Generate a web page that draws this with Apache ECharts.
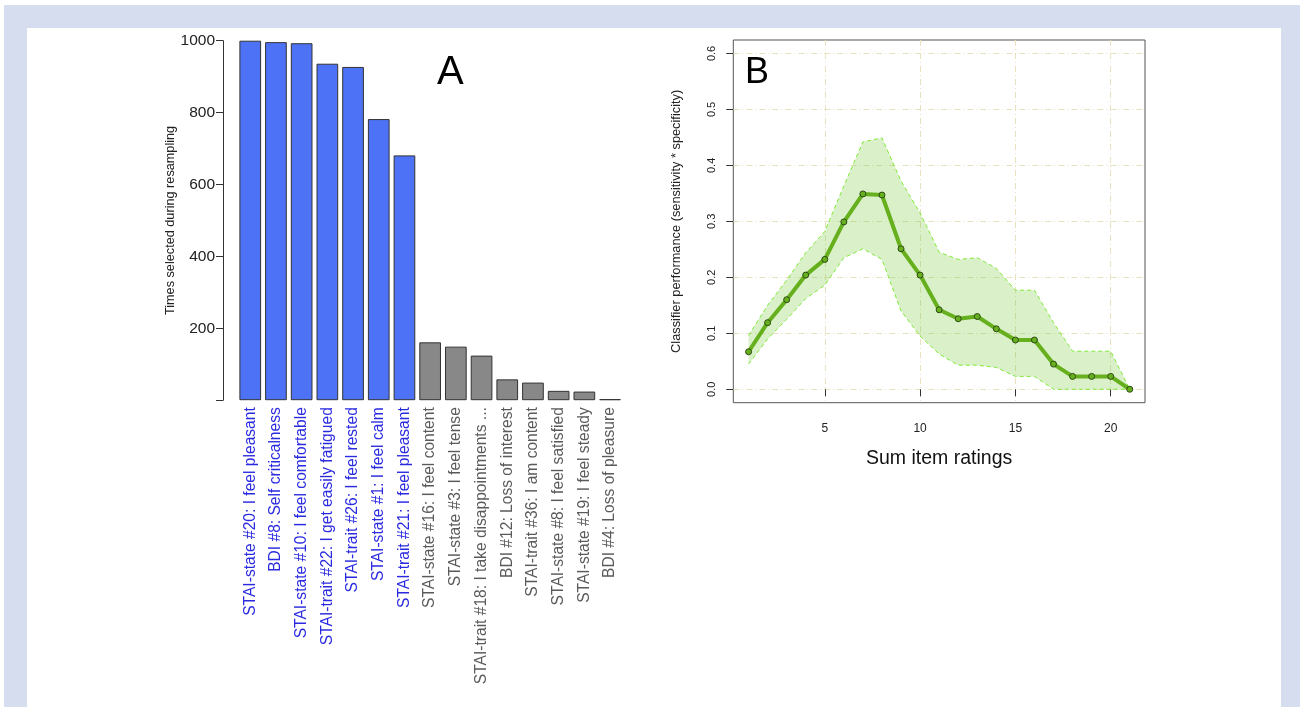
<!DOCTYPE html>
<html>
<head>
<meta charset="utf-8">
<script src="https://cdn.jsdelivr.net/npm/echarts@6/dist/echarts.min.js"></script>
<style>
  html, body { margin:0; padding:0; background:#fff; }
  #frame { position:absolute; left:4px; top:5px; width:1296px; height:702px; background:#d5ddee; }
  #inner { position:absolute; left:27px; top:28px; width:1254px; height:679px; background:#fff; }
  #chart { position:absolute; left:0; top:0; width:1300px; height:707px; }
</style>
</head>
<body>
<div id="frame"></div>
<div id="inner"></div>
<div id="chart"></div>
<script>
// ---- Panel A data ----
const itemLabels = [
  "STAI-state #20: I feel pleasant",
  "BDI #8: Self criticalness",
  "STAI-state #10: I feel comfortable",
  "STAI-trait #22: I get easily fatigued",
  "STAI-trait #26: I feel rested",
  "STAI-state #1: I feel calm",
  "STAI-trait #21: I feel pleasant",
  "STAI-state #16: I feel content",
  "STAI-state #3: I feel tense",
  "STAI-trait #18: I take disappointments ...",
  "BDI #12: Loss of interest",
  "STAI-trait #36: I am content",
  "STAI-state #8: I feel satisfied",
  "STAI-state #19: I feel steady",
  "BDI #4: Loss of pleasure"
];
const timesSelected = [1000, 996, 993, 936, 927, 782, 681, 161, 149, 124, 58, 49, 26, 24, 3];
const selectedItems = [true, true, true, true, true, true, true, false, false, false, false, false, false, false, false];
const yTicksA = [0, 200, 400, 600, 800, 1000];

// ---- Panel B data ----
const sumRatings = [1, 2, 3, 4, 5, 6, 7, 8, 9, 10, 11, 12, 13, 14, 15, 16, 17, 18, 19, 20, 21];
const perfMean  = [0.067, 0.119, 0.160, 0.204, 0.232, 0.299, 0.349, 0.347, 0.251, 0.204, 0.142, 0.126, 0.130, 0.108, 0.088, 0.088, 0.045, 0.023, 0.023, 0.023, 0.000];
const perfUpper = [0.096, 0.150, 0.195, 0.244, 0.282, 0.363, 0.442, 0.449, 0.372, 0.315, 0.245, 0.232, 0.235, 0.216, 0.177, 0.177, 0.119, 0.068, 0.068, 0.068, 0.000];
const perfLower = [0.045, 0.090, 0.125, 0.162, 0.186, 0.235, 0.251, 0.232, 0.140, 0.095, 0.063, 0.043, 0.043, 0.039, 0.023, 0.023, 0.000, 0.000, 0.000, 0.000, 0.000];
const xTicksB = [5, 10, 15, 20];
const yTicksB = [0.0, 0.1, 0.2, 0.3, 0.4, 0.5, 0.6];

const FONT = "'Liberation Sans', Arial, Helvetica, sans-serif";
const chart = echarts.init(document.getElementById('chart'), null, { renderer: 'canvas' });

const option = {
  backgroundColor: 'transparent',
  animation: false,
  textStyle: { fontFamily: FONT },
  title: [
    { text: 'A', left: 432, top: 48, textStyle: { fontSize: 40, fontWeight: 'normal', color: '#000', fontFamily: FONT } },
    { text: 'B', left: 740, top: 50, textStyle: { fontSize: 36, fontWeight: 'normal', color: '#000', fontFamily: FONT } }
  ],
  grid: [
    { left: 237.4, top: 40.7, width: 385.5, height: 359.5, containLabel: false },
    { left: 733.3, top: 40, width: 411.7, height: 362.7, containLabel: false, show: true, borderColor: '#555', borderWidth: 1, backgroundColor: 'transparent' }
  ],
  xAxis: [
    {
      gridIndex: 0, type: 'category', data: itemLabels,
      axisLine: { show: false }, axisTick: { show: false },
      axisLabel: {
        rotate: 90, margin: 7, fontSize: 15.6, fontFamily: FONT, interval: 0,
        color: function (value, index) { return selectedItems[index] ? '#2a2ae0' : '#5a5a5a'; }
      }
    },
    {
      gridIndex: 1, type: 'value', min: 0.2, max: 21.8,
      axisLine: { show: false },
      axisTick: { show: true, length: 7, inside: false, customValues: xTicksB, lineStyle: { color: '#333' } },
      axisLabel: { customValues: xTicksB, margin: 20, fontSize: 12, color: '#222', fontFamily: FONT },
      splitLine: { show: true, lineStyle: { color: '#e8e1c0', width: 1, type: [6, 3, 1, 3] } },
      name: 'Sum item ratings', nameLocation: 'middle', nameGap: 46,
      nameTextStyle: { fontSize: 19.5, color: '#111', fontFamily: FONT }
    }
  ],
  yAxis: [
    {
      gridIndex: 0, type: 'value', min: 0, max: 1000, interval: 200, offset: 14.4,
      axisLine: { show: true, lineStyle: { color: '#333' } },
      axisTick: { show: true, length: 7, lineStyle: { color: '#333' } },
      axisLabel: {
        margin: 8, fontSize: 15.5, color: '#222', fontFamily: FONT,
        formatter: function (v) { return v === 0 ? '' : String(v); }
      },
      splitLine: { show: false },
      name: 'Times selected during resampling', nameLocation: 'middle', nameGap: 46, nameRotate: 90,
      nameTextStyle: { fontSize: 12.7, color: '#222', fontFamily: FONT }
    },
    {
      gridIndex: 1, type: 'value', min: -0.024, max: 0.624,
      axisLine: { show: false },
      axisTick: { show: true, length: 7, customValues: yTicksB, lineStyle: { color: '#333' } },
      axisLabel: {
        customValues: yTicksB, rotate: 90, margin: 16, fontSize: 11, color: '#222', fontFamily: FONT,
        formatter: function (v) { return Number(v).toFixed(1); }
      },
      splitLine: { show: true, lineStyle: { color: '#e8e1c0', width: 1, type: [6, 3, 1, 3] } },
      name: 'Classifier performance (sensitivity * specificity)', nameLocation: 'middle', nameGap: 50, nameRotate: 90,
      nameTextStyle: { fontSize: 12.8, color: '#222', fontFamily: FONT }
    }
  ],
  series: [
    {
      type: 'bar', xAxisIndex: 0, yAxisIndex: 0,
      barCategoryGap: '15.6%',
      data: timesSelected.map(function (v, i) {
        return { value: v, itemStyle: { color: selectedItems[i] ? '#4e72f5' : '#888888' } };
      }),
      itemStyle: { borderColor: '#333', borderWidth: 1 }
    },
    {
      type: 'custom', xAxisIndex: 1, yAxisIndex: 1, silent: true, z: 1,
      data: sumRatings.map(function (x, i) { return [x, perfLower[i], perfUpper[i]]; }),
      renderItem: function (params, api) {
        if (params.dataIndex !== 0) return;
        const pts = [];
        for (let i = 0; i < sumRatings.length; i++) pts.push(api.coord([sumRatings[i], perfUpper[i]]));
        for (let i = sumRatings.length - 1; i >= 0; i--) pts.push(api.coord([sumRatings[i], perfLower[i]]));
        return { type: 'polygon', shape: { points: pts }, style: { fill: 'rgba(120,200,60,0.28)' } };
      }
    },
    {
      type: 'line', xAxisIndex: 1, yAxisIndex: 1, z: 2, symbol: 'none', silent: true,
      data: sumRatings.map(function (x, i) { return [x, perfUpper[i]]; }),
      lineStyle: { color: '#7eea36', width: 1, type: [4, 3] }
    },
    {
      type: 'line', xAxisIndex: 1, yAxisIndex: 1, z: 2, symbol: 'none', silent: true,
      data: sumRatings.map(function (x, i) { return [x, perfLower[i]]; }),
      lineStyle: { color: '#7eea36', width: 1, type: [4, 3] }
    },
    {
      type: 'line', xAxisIndex: 1, yAxisIndex: 1, z: 3,
      data: sumRatings.map(function (x, i) { return [x, perfMean[i]]; }),
      symbol: 'circle', symbolSize: 6, showSymbol: true,
      lineStyle: { color: '#66b01e', width: 4 },
      itemStyle: { color: '#66b01e', borderColor: '#2e4a14', borderWidth: 1 }
    }
  ]
};
chart.setOption(option);
</script>
</body>
</html>
